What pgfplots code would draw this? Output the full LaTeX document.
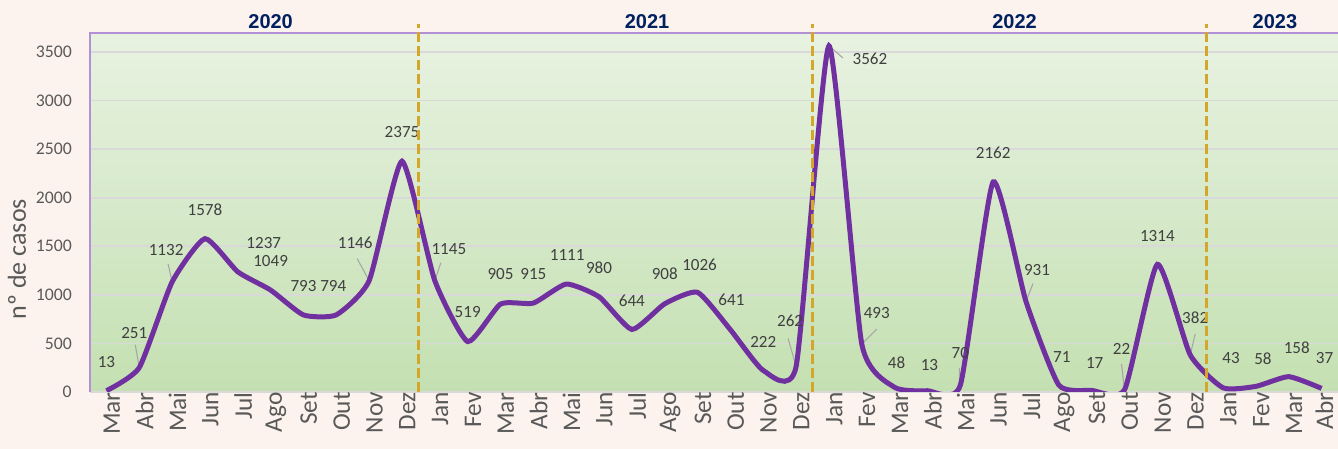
\documentclass[border=0pt]{standalone}
\usepackage{pgfplots}
\usepackage{pgfplotstable}
\pgfplotsset{compat=1.18}
\usepackage{fontspec}
\setmainfont{Carlito}
\newfontfamily\yearfont{Liberation Sans}

\definecolor{pagebg}{RGB}{252,243,238}
\definecolor{linepurple}{RGB}{112,48,160}
\definecolor{gold}{RGB}{212,166,42}
\definecolor{gridgray}{RGB}{217,217,217}
\definecolor{borderpurple}{RGB}{180,145,214}
\definecolor{labelgray}{RGB}{64,64,64}
\definecolor{tickgray}{RGB}{89,89,89}
\definecolor{navy}{RGB}{0,32,96}
\definecolor{leadgray}{RGB}{166,166,166}
\definecolor{bgA}{RGB}{205,229,190}
\definecolor{bgB}{RGB}{193,222,174}
\definecolor{bgC}{RGB}{196,224,177}
\definecolor{bgD}{RGB}{214,233,202}
\definecolor{bgE}{RGB}{232,242,225}
\definecolor{bgF}{RGB}{247,250,244}

\pgfdeclareverticalshading{plotbg}{100bp}{color(0bp)=(bgA); color(8bp)=(bgB); color(25bp)=(bgC); color(50bp)=(bgD); color(75bp)=(bgE); color(100bp)=(bgF)}

% x: month index, y: cases, dx/dy: label offset (px), lu/lv: leader line (px)
\pgfplotstableread{
x y dx dy lu lv
0 13 0 29 0 0
1 251 -5 35 -4 23
2 1132 -6 32 -4 18
3 1578 0 29 0 0
4 1237 26 29 0 0
5 1049 0 29 0 0
6 793 0 29 0 0
7 794 -3 29 0 0
8 1146 -14 38 -12 22
9 2375 0 29 0 0
10 1145 14 32 6 18
11 519 0 30 0 0
12 905 0 30 0 0
13 915 0 29 0 0
14 1111 1 29 0 0
15 980 0 29 0 0
16 644 0 29 0 0
17 908 0 30 0 0
18 1026 2 28 0 0
19 641 1 30 0 0
20 222 0 28 0 0
21 262 -6 46 -8 28
22 3562 41 -13 14 -12
23 493 15 31 15 15
24 48 2 25 0 0
25 13 2 26 0 0
26 70 0 32 -1 17
27 2162 0 29 0 0
28 931 11 32 7 18
29 71 3 28 0 0
30 17 3 27 0 0
31 22 -3 41 -3 26
32 1314 0 28 0 0
33 382 5 37 5 21
34 43 8 30 0 0
35 58 7 28 0 0
36 158 8 29 0 0
37 37 3 30 0 0
}\casedata

\begin{document}
\begin{tikzpicture}
\useasboundingbox (0,0) rectangle (1003.5pt,336.75pt);
\fill[pagebg] (0,0) rectangle (1003.5pt,336.75pt);
\begin{axis}[
  at={(67.5pt,42.75pt)}, anchor=south west,
  scale only axis, width=936pt, height=269.25pt,
  xmin=-0.5, xmax=37.5, ymin=0, ymax=3695,
  axis background/.style={shade, shading=plotbg},
  axis line style={draw=none},
  major tick length=0pt,
  xtick={0,...,37},
  xticklabels={Mar,Abr,Mai,Jun,Jul,Ago,Set,Out,Nov,Dez,
    Jan,Fev,Mar,Abr,Mai,Jun,Jul,Ago,Set,Out,Nov,Dez,
    Jan,Fev,Mar,Abr,Mai,Jun,Jul,Ago,Set,Out,Nov,Dez,
    Jan,Fev,Mar,\raisebox{4pt}{Abr}},
  xticklabel style={rotate=90, anchor=east, inner sep=0pt, yshift=-4pt,
    font=\fontsize{19}{19}\selectfont, text=tickgray},
  ytick={0,500,...,3500},
  yticklabel style={anchor=east, inner sep=0pt, xshift=-13.5pt,
    font=\fontsize{13.3}{13.3}\selectfont, text=tickgray},
  /pgf/number format/assume math mode=true,
  /pgf/number format/1000 sep={},
  ymajorgrids, grid style={gridgray, line width=1.3pt},
  clip mode=individual,
]
\draw[borderpurple, line width=1.5pt] (rel axis cs:0,0) -- (rel axis cs:0,1) -- (rel axis cs:1,1);

\addplot[leadgray, line width=0.8pt, quiver={u=\thisrow{lu}/32.84, v=\thisrow{lv}*10.294}]
  table[x=x, y=y] {\casedata};

\addplot[linepurple, line width=3.75pt, smooth, tension=0.32, no markers,
  nodes near coords,
  point meta=explicit symbolic,
  visualization depends on={\thisrow{dx}\as\dx},
  visualization depends on={\thisrow{dy}\as\dy},
  nodes near coords style={anchor=center, inner sep=0pt,
    xshift={\dx*0.75pt}, yshift={\dy*0.75pt},
    font=\fontsize{12.8}{12.8}\selectfont, text=labelgray}]
  table[x=x, y=y, meta=y] {\casedata};

\draw[gold, line width=2.4pt, dash pattern=on 7.5pt off 3pt]
  (axis cs:9.5,0) -- ([yshift=6.75pt]axis cs:9.5,3695);
\draw[gold, line width=2.4pt, dash pattern=on 7.5pt off 3pt]
  (axis cs:21.5,0) -- ([yshift=6.75pt]axis cs:21.5,3695);
\draw[gold, line width=2.4pt, dash pattern=on 7.5pt off 3pt]
  (axis cs:33.5,0) -- ([yshift=6.75pt]axis cs:33.5,3695);

\node[font=\yearfont\bfseries\fontsize{15}{15}\selectfont, text=navy, anchor=base]
  at ([yshift=3pt]axis cs:5.0,3695) {2020};
\node[font=\yearfont\bfseries\fontsize{15}{15}\selectfont, text=navy, anchor=base]
  at ([yshift=3pt]axis cs:16.46,3695) {2021};
\node[font=\yearfont\bfseries\fontsize{15}{15}\selectfont, text=navy, anchor=base]
  at ([yshift=3pt]axis cs:27.65,3695) {2022};
\node[font=\yearfont\bfseries\fontsize{15}{15}\selectfont, text=navy, anchor=base]
  at ([yshift=3pt]axis cs:35.58,3695) {2023};
\node[rotate=90, font=\fontsize{19.5}{19.5}\selectfont, text=tickgray]
  at (rel axis cs:-0.0585,0.37) {nº de casos};
\end{axis}
\end{tikzpicture}
\end{document}
